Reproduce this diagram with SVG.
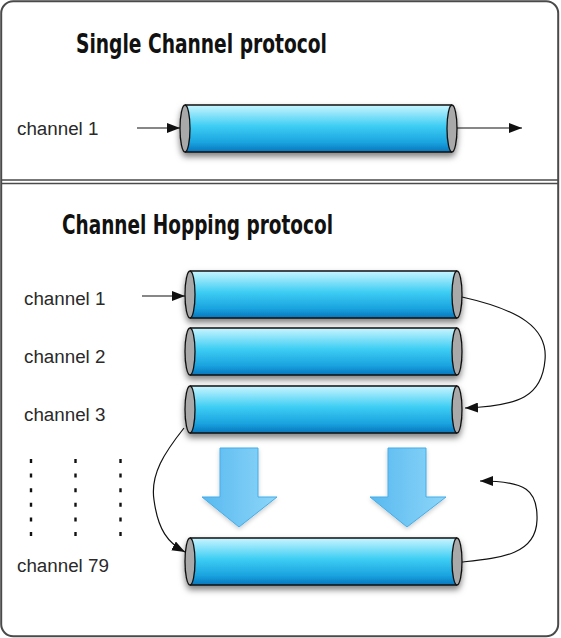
<svg xmlns="http://www.w3.org/2000/svg" xmlns:xlink="http://www.w3.org/1999/xlink" width="561" height="638" viewBox="0 0 561 638">
<style>
.title{font-family:"Liberation Sans Narrow","DejaVu Sans Condensed","Liberation Sans",Arial,sans-serif;font-weight:bold;font-size:26px;fill:#111}
.lbl{font-family:"Liberation Sans",Arial,sans-serif;font-size:18.8px;fill:#2a2a2a}
.conn{fill:none;stroke:#111;stroke-width:1.2}
.dots{stroke:#111;stroke-width:2.4;stroke-dasharray:4 10.6}
.big{fill:url(#arrowGrad);stroke:#45ade8;stroke-width:1}
</style>
<defs>
<linearGradient id="bodyGrad" x1="0" y1="0" x2="0" y2="1">
<stop offset="0" stop-color="#c9f5ff"/>
<stop offset="0.45" stop-color="#3dcdf3"/>
<stop offset="0.8" stop-color="#1aa3df"/>
<stop offset="1" stop-color="#0675bd"/>
</linearGradient>
<linearGradient id="arrowGrad" x1="0" y1="0" x2="1" y2="0">
<stop offset="0" stop-color="#58b9ef"/>
<stop offset="1" stop-color="#8dd6f9"/>
</linearGradient>
<filter id="shadow" x="-10%" y="-40%" width="120%" height="190%">
<feDropShadow dx="0" dy="4" stdDeviation="3" flood-color="#000" flood-opacity="0.5"/>
</filter>
<filter id="shadow2" x="-20%" y="-20%" width="140%" height="150%">
<feDropShadow dx="0" dy="2" stdDeviation="2" flood-color="#000" flood-opacity="0.2"/>
</filter>
<marker id="arr" markerUnits="userSpaceOnUse" markerWidth="14" markerHeight="10" refX="13" refY="5" orient="auto">
<path d="M0,0 L13,5 L0,10 Z" fill="#111"/>
</marker>
<g id="cyl">
<rect x="0" y="0" width="267" height="47" fill="url(#bodyGrad)"/>
<path d="M0,0 H267 M0,47 H267" stroke="#111" stroke-width="1.4" fill="none"/>
<ellipse cx="0" cy="23.5" rx="5" ry="23.5" fill="#a9a9a9" stroke="#111" stroke-width="1.3"/>
<ellipse cx="267" cy="23.5" rx="5" ry="23.5" fill="#a9a9a9" stroke="#111" stroke-width="1.3"/>
</g>
</defs>
<rect x="0" y="0" width="561" height="638" fill="#fff"/>
<g id="frame">
<rect x="1.2" y="1.2" width="557" height="635" rx="12" fill="#fff" stroke="#4a4a4a" stroke-width="2"/>
<line x1="1" y1="180" x2="558" y2="180" stroke="#4a4a4a" stroke-width="1.4"/>
<line x1="1" y1="183.5" x2="558" y2="183.5" stroke="#4a4a4a" stroke-width="1.4"/>
</g>
<g id="titles">
<text class="title" x="76" y="53" textLength="251" lengthAdjust="spacingAndGlyphs">Single Channel protocol</text>
<text class="title" x="62" y="234" textLength="271" lengthAdjust="spacingAndGlyphs">Channel Hopping protocol</text>
</g>
<g id="labels">
<text class="lbl" x="17" y="135">channel 1</text>
<text class="lbl" x="24" y="305">channel 1</text>
<text class="lbl" x="24" y="363">channel 2</text>
<text class="lbl" x="24" y="421">channel 3</text>
<text class="lbl" x="17" y="572">channel 79</text>
</g>
<g id="single-ch1" filter="url(#shadow)"><use xlink:href="#cyl" x="185" y="105"/></g>
<g id="hop-ch1" filter="url(#shadow)"><use xlink:href="#cyl" x="190" y="271"/></g>
<g id="hop-ch2" filter="url(#shadow)"><use xlink:href="#cyl" x="190" y="328"/></g>
<g id="hop-ch3" filter="url(#shadow)"><use xlink:href="#cyl" x="190" y="386"/></g>
<g id="hop-ch79" filter="url(#shadow)"><use xlink:href="#cyl" x="190" y="538"/></g>
<g id="ellipsis">
<line class="dots" x1="31" y1="459" x2="31" y2="540"/>
<line class="dots" x1="75.5" y1="459" x2="75.5" y2="540"/>
<line class="dots" x1="120.5" y1="459" x2="120.5" y2="540"/>
</g>
<g id="hop-arrows" filter="url(#shadow2)">
<polygon class="big" points="220,448 258,448 258,497 277,497 239,527 202,497 220,497"/>
<polygon class="big" points="388,448 426,448 426,497 446,497 407,527 370,497 388,497"/>
</g>
<g id="connectors">
<path class="conn" d="M137,128 L180,128" marker-end="url(#arr)"/>
<path class="conn" d="M457,128 L522,128" marker-end="url(#arr)"/>
<path class="conn" d="M142,296 L185,296" marker-end="url(#arr)"/>
<path class="conn" d="M462,297 C520,310 548,328 545,360 C542,396 520,406 465,408" marker-end="url(#arr)"/>
<path class="conn" d="M184,428 C165,452 150,474 154,500 C158,530 168,543 185,552" marker-end="url(#arr)"/>
<path class="conn" d="M462,562 C500,558 536,555 537,520 C538,490 526,481 480,481" marker-end="url(#arr)"/>
</g>
</svg>
